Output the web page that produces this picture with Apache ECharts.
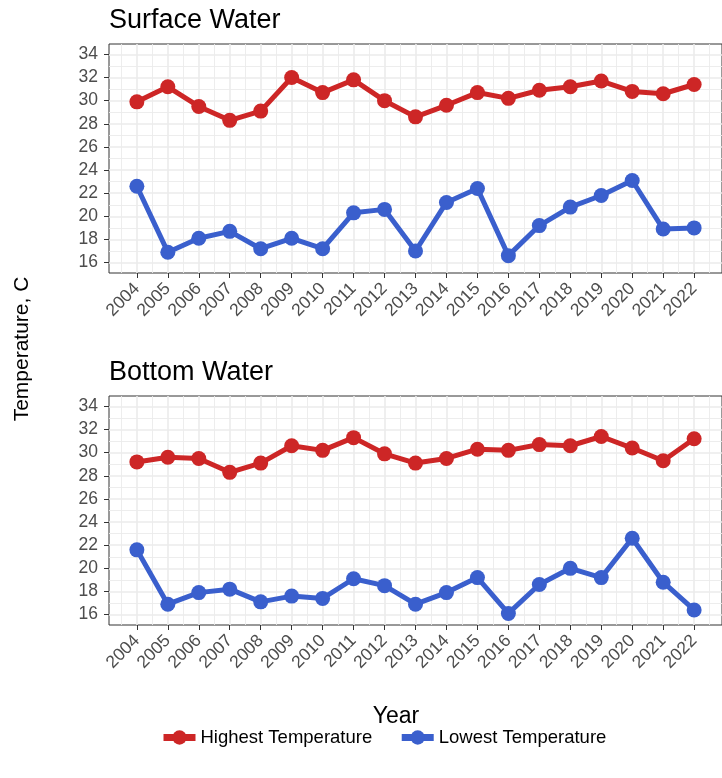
<!DOCTYPE html>
<html>
<head>
<meta charset="utf-8">
<script src="https://cdn.jsdelivr.net/npm/echarts@6/dist/echarts.min.js"></script>
<style>
html,body{margin:0;padding:0;background:#fff;}
#chart{width:722px;height:778px;}
</style>
</head>
<body>
<div id="chart"></div>
<script>
const years = [2004,2005,2006,2007,2008,2009,2010,2011,2012,2013,2014,2015,2016,2017,2018,2019,2020,2021,2022];
const surfaceHigh = [29.9,31.2,29.5,28.3,29.1,32.0,30.7,31.8,30.0,28.6,29.6,30.7,30.2,30.9,31.2,31.7,30.8,30.6,31.4];
const surfaceLow  = [22.6,16.9,18.1,18.7,17.2,18.1,17.2,20.3,20.6,17.0,21.2,22.4,16.6,19.2,20.8,21.8,23.1,18.9,19.0];
const bottomHigh  = [29.2,29.6,29.5,28.3,29.1,30.6,30.2,31.3,29.9,29.1,29.5,30.3,30.2,30.7,30.6,31.4,30.4,29.3,31.2];
const bottomLow   = [21.6,16.9,17.9,18.2,17.1,17.6,17.4,19.1,18.5,16.9,17.9,19.2,16.1,18.6,20.0,19.2,22.6,18.8,16.4];
const yTicks = [16,18,20,22,24,26,28,30,32,34];
const yMinor = [17,19,21,23,25,27,29,31,33];
const xMinor = [2003.5,2004.5,2005.5,2006.5,2007.5,2008.5,2009.5,2010.5,2011.5,2012.5,2013.5,2014.5,2015.5,2016.5,2017.5,2018.5,2019.5,2020.5,2021.5,2022.5];
const panelTitles = ['Surface Water','Bottom Water'];
const seriesNames = ['Highest Temperature','Lowest Temperature'];

const RED = '#CD2626', BLUE = '#3A5FCD';
const FONT = 'Liberation Sans, Arial, sans-serif';
const GRID_COLOR = '#ebebeb';

const chart = echarts.init(document.getElementById('chart'), null, {renderer:'canvas'});

const grids = [
  {left:109, top:44, width:615, height:229, show:true, borderColor:'#333333', borderWidth:1, backgroundColor:'transparent'},
  {left:109, top:396, width:615, height:229, show:true, borderColor:'#333333', borderWidth:1, backgroundColor:'transparent'}
];

const xAxes = [], yAxes = [];
[0,1].forEach(g => {
  xAxes.push({
    type:'value', gridIndex:g, min:2003.1, max:2022.9,
    axisLine:{show:false},
    axisTick:{show:true, customValues:years, length:5, lineStyle:{color:'#333333', width:1}},
    axisLabel:{show:true, customValues:years, rotate:45, margin:13, color:'#4d4d4d', fontSize:17.5, fontFamily:FONT,
      formatter: v => String(v)},
    splitLine:{show:true, lineStyle:{color:GRID_COLOR, width:1.6}},
    z:2
  });
  xAxes.push({
    type:'value', gridIndex:g, min:2003.1, max:2022.9,
    axisLine:{show:false},
    axisTick:{show:false, customValues:xMinor},
    axisLabel:{show:false, customValues:xMinor},
    splitLine:{show:true, lineStyle:{color:GRID_COLOR, width:0.9}},
    z:1
  });
  yAxes.push({
    type:'value', gridIndex:g, min:15.1, max:34.9,
    axisLine:{show:false},
    axisTick:{show:true, customValues:yTicks, length:5, lineStyle:{color:'#333333', width:1}},
    axisLabel:{show:true, customValues:yTicks, margin:11, color:'#4d4d4d', fontSize:17.5, fontFamily:FONT},
    splitLine:{show:true, lineStyle:{color:GRID_COLOR, width:1.6}},
    z:2
  });
  yAxes.push({
    type:'value', gridIndex:g, min:15.1, max:34.9,
    axisLine:{show:false},
    axisTick:{show:false, customValues:yMinor},
    axisLabel:{show:false, customValues:yMinor},
    splitLine:{show:true, lineStyle:{color:GRID_COLOR, width:0.9}},
    z:1
  });
});

function mk(name, vals, color, g){
  return {
    name:name, type:'line', xAxisIndex:g*2, yAxisIndex:g*2,
    data: years.map((y,i)=>[y, vals[i]]),
    symbol:'circle', symbolSize:15,
    lineStyle:{color:color, width:5},
    itemStyle:{color:color},
    animation:false, z:5
  };
}

const option = {
  backgroundColor:'#ffffff',
  animation:false,
  title: panelTitles.map((t,i)=>({
    text:t, left:104, top: i===0 ? 2 : 354,
    textStyle:{fontSize:27, fontWeight:'normal', color:'#000', fontFamily:FONT}
  })),
  grid: grids,
  xAxis: xAxes,
  yAxis: yAxes,
  legend:{
    data:seriesNames, left:155, top:723, itemWidth:32, itemHeight:18, itemGap:26,
    lineStyle:{width:7},
    textStyle:{fontSize:18.5, color:'#000', fontFamily:FONT}
  },
  graphic:[
    {type:'text', x:396, y:717, style:{text:'Year', fill:'#000', font:'23px ' + FONT, align:'center', verticalAlign:'middle'}},
    {type:'text', x:22, y:349, rotation:Math.PI/2, style:{text:'Temperature, C', fill:'#000', font:'21px ' + FONT, align:'center', verticalAlign:'middle'}}
  ],
  series:[
    mk(seriesNames[0], surfaceHigh, RED, 0),
    mk(seriesNames[1], surfaceLow, BLUE, 0),
    mk(seriesNames[0], bottomHigh, RED, 1),
    mk(seriesNames[1], bottomLow, BLUE, 1)
  ]
};
chart.setOption(option);
</script>
</body>
</html>
